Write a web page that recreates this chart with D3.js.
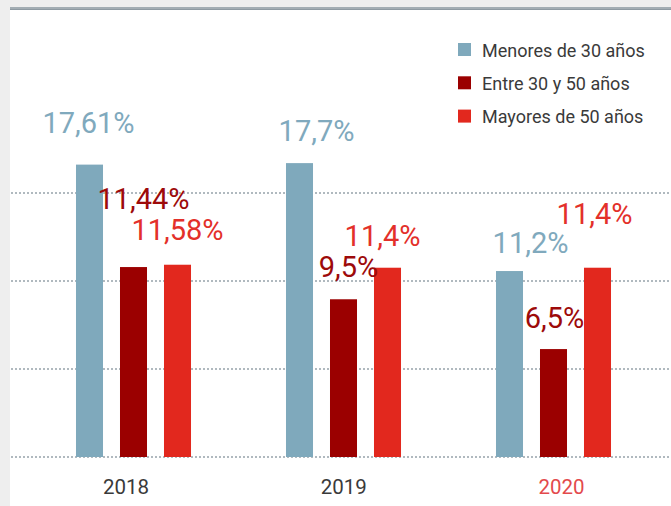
<!DOCTYPE html>
<html>
<head>
<meta charset="utf-8">
<script src="https://cdn.jsdelivr.net/npm/d3@7"></script>
<style>
  html, body { margin: 0; padding: 0; background: #eeeeee; }
  svg { display: block; font-family: Roboto, "Open Sans", sans-serif; }
</style>
</head>
<body>
<svg id="chart"></svg>
<script>
const years = ["2018", "2019", "2020"];
const series = ["Menores de 30 años", "Entre 30 y 50 años", "Mayores de 50 años"];
const menores = [17.61, 17.7, 11.2];
const entre = [11.44, 9.5, 6.5];
const mayores = [11.58, 11.4, 11.4];
const valueLabels = [
  ["17,61%", "11,44%", "11,58%"],
  ["17,7%", "9,5%", "11,4%"],
  ["11,2%", "6,5%", "11,4%"]
];
const gridValues = [0, 5.3, 10.6, 15.9];

// label nudges [dx, dy] relative to the top centre of each bar
const labelNudge = [
  [[-1, -32], [10, -58], [0, -25]],
  [[17, -22], [5, -22], [-5, -22]],
  [[21, -18], [1, -21], [-3, -44]]
];

const W = 671, H = 506;
const COLORS = { "Menores de 30 años": "#7fa9bc", "Entre 30 y 50 años": "#9b0000", "Mayores de 50 años": "#e2281e" };
const LABEL_COLORS = { "Menores de 30 años": "#80a9bd", "Entre 30 y 50 años": "#9d0a0a", "Mayores de 50 años": "#e3302a" };

const rows = years.map((year, i) => ({
  year,
  values: series.map((s, j) => ({
    year, series: s,
    value: [menores, entre, mayores][j][i],
    label: valueLabels[i][j],
    nudge: labelNudge[i][j]
  }))
}));

const svg = d3.select("#chart").attr("width", W).attr("height", H);

// white panel and top rule
svg.append("rect").attr("x", 10).attr("y", 10).attr("width", W - 10).attr("height", H - 10).attr("fill", "#fff");
svg.append("rect").attr("x", 10).attr("y", 7).attr("width", W - 10).attr("height", 3).attr("fill", "#a3adb3");
svg.append("rect").attr("x", 10).attr("y", 9).attr("width", W - 10).attr("height", 1).attr("fill", "#8e9aa2");

const y = d3.scaleLinear().domain([0, 21.2]).range([457, 105]);
const x0 = d3.scaleBand().domain(years).range([28.5, 658.5]);
const x1 = d3.scaleBand().domain(series).range([39, 171]).paddingInner(0.386).paddingOuter(0.193);
const xLabel = d3.scalePoint().domain(years).range([125.5, 561]);

// dotted gridlines
svg.append("g")
  .selectAll("line")
  .data(gridValues)
  .join("line")
  .attr("x1", 11).attr("x2", W)
  .attr("y1", d => y(d)).attr("y2", d => y(d))
  .attr("stroke", "#96a2ab")
  .attr("stroke-width", 1.3)
  .attr("stroke-dasharray", "2,2");

const groups = svg.append("g")
  .selectAll("g")
  .data(rows)
  .join("g")
  .attr("transform", d => `translate(${x0(d.year)},0)`);

groups.selectAll("rect")
  .data(d => d.values)
  .join("rect")
  .attr("x", d => x1(d.series))
  .attr("y", d => y(d.value))
  .attr("width", x1.bandwidth())
  .attr("height", d => y(0) - y(d.value))
  .attr("fill", d => COLORS[d.series]);

groups.selectAll("text")
  .data(d => d.values)
  .join("text")
  .attr("x", d => x1(d.series) + x1.bandwidth() / 2 + d.nudge[0])
  .attr("y", d => y(d.value) + d.nudge[1])
  .attr("text-anchor", "middle")
  .attr("font-size", 29)
  .attr("fill", d => LABEL_COLORS[d.series])
  .text(d => d.label);

// year axis
svg.append("g")
  .attr("transform", `translate(0,${y(0)})`)
  .call(d3.axisBottom(xLabel).tickSize(0).tickPadding(22))
  .call(g => g.select(".domain").remove())
  .call(g => g.selectAll("text")
    .attr("font-family", "Roboto, sans-serif")
    .attr("font-size", 20.5)
    .attr("fill", d => d === "2020" ? "#e34a4c" : "#3a3a3a"));

// legend
const legend = svg.append("g")
  .selectAll("g")
  .data(series)
  .join("g")
  .attr("transform", (d, i) => `translate(458,${43 + i * 33.3})`);

legend.append("rect").attr("width", 13).attr("height", 13).attr("fill", d => COLORS[d]);
legend.append("text")
  .attr("x", 24).attr("y", 13.5)
  .attr("font-size", 18)
  .attr("fill", "#3a3a3a")
  .text(d => d);
</script>
</body>
</html>
